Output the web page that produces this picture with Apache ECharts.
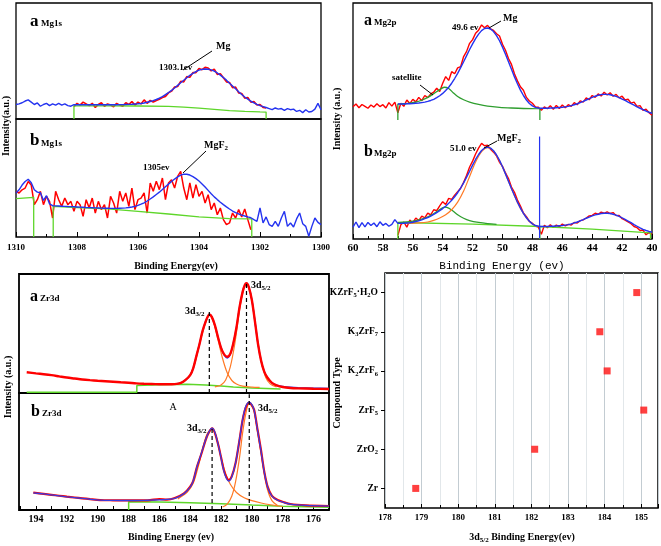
<!DOCTYPE html>
<html><head><meta charset="utf-8">
<script src="https://cdn.jsdelivr.net/npm/echarts@6/dist/echarts.min.js"></script>
<style>html,body{margin:0;padding:0;background:#fff}#c{width:661px;height:546px}</style>
</head><body><div id="c"></div>
<script>
// ---------- Mg1s (two spectra, a and b) ----------
const mg1sE = [1310.0,1309.9,1309.8,1309.7,1309.6,1309.5,1309.4,1309.3,1309.2,1309.1,1309.0,1308.9,1308.8,1308.7,1308.6,1308.5,1308.4,1308.3,1308.2,1308.1,1308.0,1307.9,1307.8,1307.7,1307.6,1307.5,1307.4,1307.3,1307.2,1307.1,1307.0,1306.9,1306.8,1306.7,1306.6,1306.5,1306.4,1306.3,1306.2,1306.1,1306.0,1305.9,1305.8,1305.7,1305.6,1305.5,1305.4,1305.3,1305.2,1305.1,1305.0,1304.9,1304.8,1304.7,1304.6,1304.5,1304.4,1304.3,1304.2,1304.1,1304.0,1303.9,1303.8,1303.7,1303.6,1303.5,1303.4,1303.3,1303.2,1303.1,1303.0,1302.9,1302.8,1302.7,1302.6,1302.5,1302.4,1302.3,1302.2,1302.1,1302.0,1301.9,1301.8,1301.7,1301.6,1301.5,1301.4,1301.3,1301.2,1301.1,1301.0,1300.9,1300.8,1300.7,1300.6,1300.5,1300.4,1300.3,1300.2,1300.1,1300.0];
const mg1sA_blue = [12.5,13.0,14.0,15.5,16.5,14.5,12.5,13.8,11.0,12.5,13.5,11.5,13.0,12.0,13.5,12.0,13.0,11.5,11.0,12.3,
 12.3,12.3,12.3,12.3,12.3,12.3,12.3,12.3,12.3,12.3,12.3,12.3,12.3,12.3,
 12.4,12.4,12.5,12.6,12.7,12.9,13.1,
 13.4,13.8,14.4,15.1,15.8,16.8,17.9,19.3,21.0,22.8,
 24.7,26.7,29.0,31.2,33.4,35.6,37.6,39.3,40.9,42.1,
 42.8,43.1,42.9,42.3,41.2,39.7,37.8,35.7,33.5,30.9,
 28.4,26.0,23.5,21.1,19.0,17.1,15.3,14.0,12.7,11.5,
 10.7,9.9,
 9.0,8.0,9.5,8.5,9.0,7.5,9.0,8.0,8.5,6.5,7.5,5.5,8.0,6.0,6.5,8.5,13.5,8.0];
const mg1sA_red = [null,null,null,null,null,null,null,null,null,null,null,null,null,null,null,null,null,null,null,
 10.5,13.5,12.0,14.5,13.0,11.5,13.5,10.0,12.5,14.0,11.0,13.0,
 12.0,10.5,13.5,12.0,11.0,14.0,12.5,15.0,12.0,14.5,
 13.0,16.5,13.5,16.0,14.5,16.0,17.0,18.5,19.5,22.5,
 24.0,27.5,28.0,32.5,32.0,36.5,36.0,40.0,40.0,43.5,
 42.5,44.5,44.0,41.5,43.0,38.5,39.0,35.5,32.0,31.5,
 27.0,27.5,22.5,22.0,18.0,18.5,14.5,15.0,12.0,12.5,
 10.0,9.5,
 null,null,null,null,null,null,null,null,null,null,null,null,null,null,null,null,null,null];
const mg1sA_greenE = [1308.1,1308.1,1307,1306,1305,1304.5,1304,1303.5,1303,1302.5,1302,1301.8,1301.8];
const mg1sA_green = [0,11.4,11.4,11.2,10.8,10.2,9.3,8.3,7.3,6.5,6.1,6.0,0];

const mg1sB_blue = [37.3,40.0,44.0,47.0,49.0,46.0,40.0,38.0,37.5,31.0,35.0,28.0,26.5,
 26.4,26.25,26.1,25.95,25.8,25.7,25.6,
 25.45,25.3,25.15,25.0,24.9,24.8,24.7,24.6,24.5,24.4,
 24.35,24.3,24.3,24.3,24.4,24.5,24.7,25.0,25.4,26.0,
 26.8,27.8,29.0,30.5,32.2,34.0,36.0,38.0,40.2,42.5,
 44.8,47.0,49.1,51.0,52.4,53.3,53.2,52.5,51.2,49.5,
 47.4,45.0,42.3,39.5,36.7,34.0,31.7,29.5,27.4,25.5,
 23.7,22.0,20.7,19.5,18.6,17.8,17.0,16.3,
 14.7,13.3,24.6,11.9,17.0,10.5,9.0,13.3,9.0,16.1,21.8,9.0,11.9,8.5,15.3,20.3,11.3,9.0,0.6,9.0,16.1,12.4,10.5];
const mg1sB_red = [38.7,37.3,40.0,41.5,47.0,44.0,27.4,31.6,38.7,27.4,
 34.5,30.2,16.1,38.7,31.6,26.0,33.0,27.4,30.2,21.8,
 30.2,27.4,17.5,31.6,24.6,33.0,20.3,30.2,23.2,27.4,
 16.1,34.5,28.8,20.3,38.7,30.2,37.3,26.0,41.5,23.2,
 31.6,33.0,37.3,20.3,45.8,38.7,47.2,40.1,50.0,31.6,
 45.8,48.6,41.5,51.4,55.6,41.5,31.6,45.8,33.0,44.4,
 34.5,38.7,28.8,35.9,23.2,28.8,18.9,24.6,14.7,10.5,
 11.9,20.3,16.1,23.2,17.0,23.7,14.7,6.2,
 null,null,null,null,null,null,null,null,null,null,null,null,null,null,null,null,null,null,null,null,null,null,null];
const mg1sB_green1E = [1310,1309.42,1309.42];
const mg1sB_green1 = [32.5,33.6,0];
const mg1sB_green2E = [1308.78,1308.78,1308,1307,1306,1305,1304,1303,1302.27,1302.27];
const mg1sB_green2 = [0,26.0,25.0,23.8,21.8,19.5,17.0,15.6,15.3,0];

// ---------- Mg2p (two spectra in one frame) ----------
const mg2pE = [60.0,59.8,59.6,59.4,59.2,59.0,58.8,58.6,58.4,58.2,58.0,57.8,57.6,57.4,57.2,57.0,56.8,56.6,56.4,56.2,56.0,55.8,55.6,55.4,55.2,55.0,54.8,54.6,54.4,54.2,54.0,53.8,53.6,53.4,53.2,53.0,52.8,52.6,52.4,52.2,52.0,51.8,51.6,51.4,51.2,51.0,50.8,50.6,50.4,50.2,50.0,49.8,49.6,49.4,49.2,49.0,48.8,48.6,48.4,48.2,48.0,47.8,47.6,47.4,47.2,47.0,46.8,46.6,46.4,46.2,46.0,45.8,45.6,45.4,45.2,45.0,44.8,44.6,44.4,44.2,44.0,43.8,43.6,43.4,43.2,43.0,42.8,42.6,42.4,42.2,42.0,41.8,41.6,41.4,41.2,41.0,40.8,40.6,40.4,40.2,40.0];
const mg2pA_red = [56.0,57.2,55.6,57.0,56.2,55.4,56.8,55.9,57.3,56.1,
 56.9,55.5,57.8,56.3,58.0,53.5,57.5,56.2,58.9,57.4,
 59.2,58.1,60.0,58.6,60.8,59.9,61.5,62.2,63.9,62.5,
 66.0,68.8,67.2,70.9,70.0,72.5,73.0,77.3,79.5,82.9,
 84.5,87.2,88.5,90.7,89.5,90.5,89.0,88.4,87.0,86.0,
 82.5,80.0,76.5,74.0,70.0,67.0,64.5,63.0,60.0,58.5,
 57.5,56.0,55.8,54.5,56.0,55.2,56.5,55.0,56.6,55.3,
 56.8,55.6,56.9,56.2,57.8,56.9,58.5,58.0,59.8,59.0,
 60.8,60.0,61.5,60.6,62.2,61.0,62.0,60.5,61.3,59.8,
 60.5,58.9,59.2,57.6,58.0,56.2,56.5,54.5,55.0,53.5,52.5];
const mg2pA_blue = [null,null,null,null,null,null,null,null,null,null,null,null,null,null,null,
 57.2,57.2,57.2,57.3,57.3,57.4,57.5,57.6,57.8,58.0,
 58.3,58.7,59.2,59.9,60.7,61.7,62.9,64.3,66.0,68.0,
 70.2,72.6,75.1,77.7,80.3,82.7,84.9,86.8,88.3,89.2,
 89.4,89.0,87.9,86.2,84.0,81.3,78.3,75.1,71.9,68.7,
 65.8,63.1,60.8,58.9,57.4,56.4,55.8,55.5,55.4,55.4,
 55.4,55.5,55.5,55.6,55.7,55.8,56.0,56.2,56.5,56.9,
 57.3,57.8,58.3,58.9,59.5,60.0,60.5,60.9,61.2,61.3,
 61.3,61.1,60.8,60.4,59.9,59.3,58.7,58.0,57.4,56.7,
 56.0,55.4,54.8,54.2,53.7,53.3];
const mg2pA_greenE = [57.0,57.0,56.6,56.2,55.8,55.4,55.0,54.6,54.2,53.9,53.6,53.3,53.0,52.6,52.2,51.6,51.0,50.2,49.4,48.6,47.5,47.5];
const mg2pA_green = [50.4,57.2,57.3,57.6,58.0,58.8,60.0,61.6,63.3,64.3,63.8,62.0,60.4,59.0,58.0,57.0,56.3,55.8,55.5,55.3,55.2,50.4];

const mg2pB_blue = [5.0,7.2,4.8,6.9,5.1,7.0,5.7,6.8,5.2,7.3,5.8,6.6,5.4,6.2,8.2,6.6,
 6.6,6.7,6.8,6.9,7.1,7.4,7.7,8.1,8.6,
 9.1,9.7,10.4,11.2,12.0,12.9,13.9,15.1,16.4,17.9,
 19.6,21.6,23.8,26.2,28.7,31.3,33.7,35.8,37.5,38.6,
 38.9,38.5,37.4,35.6,33.3,30.6,27.6,24.5,21.4,18.4,
 15.6,13.1,10.9,9.0,7.5,6.4,5.7,5.4,5.3,5.3,
 5.3,5.4,5.4,5.5,5.6,5.7,5.9,6.1,6.4,6.8,
 7.2,7.7,8.2,8.8,9.3,9.8,10.2,10.5,10.8,10.9,
 10.9,10.8,10.5,10.1,9.6,9.0,8.3,7.6,6.9,6.1,
 5.4,4.7,4.1,3.6,3.2,2.9];
const mg2pB_red = [null,null,null,null,null,null,null,null,null,null,null,null,null,null,null,
 1.5,6.0,7.2,5.0,8.0,6.8,8.9,7.8,9.7,9.0,
 11.0,10.2,12.4,12.0,14.0,15.8,14.6,17.2,16.8,18.6,
 20.0,21.5,24.0,27.0,30.5,33.0,36.0,38.5,40.5,39.5,
 39.8,38.0,36.8,35.2,32.5,30.8,28.0,25.6,22.0,19.8,
 16.5,14.0,11.0,9.5,7.5,6.6,5.5,5.0,2.0,5.8,
 4.8,6.0,4.9,5.9,5.2,6.3,5.6,6.2,5.9,7.0,
 6.8,7.8,8.1,8.9,9.8,10.0,10.9,10.5,11.4,10.9,
 11.5,10.8,11.2,9.9,10.0,8.6,8.0,7.2,6.5,5.3,
 4.8,3.6,3.8,1.8,2.8,2.0];
const mg2pB_orangeE = [56.4,55.6,55.0,54.6,54.2,53.8,53.4,53.0,52.6,52.2,51.8,51.4,51.0,50.6,50.2,49.8,49.4,49.0,48.6,48.2,47.8,47.5];
const mg2pB_orange = [6.6,6.8,7.2,7.9,8.9,10.3,12.4,15.6,20.3,26.5,32.6,37.0,38.7,37.3,33.2,27.5,21.3,15.5,10.8,7.4,5.7,5.2];
const mg2pB_satE = [57.0,56.4,55.8,55.2,54.8,54.4,54.1,53.85,53.6,53.3,53.0,52.6,52.2,51.6,51.0,50.4];
const mg2pB_sat = [6.9,7.2,7.8,8.8,10.0,11.6,12.9,13.5,13.1,11.8,10.3,8.8,7.8,7.0,6.5,6.2];
const mg2pB_baseE = [57.0,57.0,52.0,47.5,47.5,47.5,44.0,40.1,40.1];
const mg2pB_base = [0,7.0,6.3,5.3,0,5.3,4.2,2.6,0];
const mg2pB_spikeE = [47.52,47.52];
const mg2pB_spike = [0.3,43.4];

// ---------- Zr3d ----------
const zrA_redE = [194.6,194,193.5,193,192.5,192,191.5,191,190.5,190,189.5,189,188.5,188,187.5,187,186.5,186,185.5,185,184.6,184.3,184,183.8,183.6,183.4,183.2,183,182.85,182.75,182.6,182.4,182.2,182,181.8,181.6,181.4,181.2,181,180.8,180.6,180.45,180.35,180.2,180,179.8,179.6,179.4,179.2,179,178.7,178.4,178,177.5,177,176,175];
const zrA_red = [17.4,16.5,15.8,15.0,14.0,13.0,12.2,11.4,10.8,10.3,9.9,9.5,9.0,8.6,8.1,7.8,7.6,7.4,7.3,7.5,8.5,11,15,21,31,41,52,60,64.5,66,64,57,47,38,32.5,30.5,33,42,55,72,85,91,92.2,89,78,60,41,27,18,13,8.5,6.5,5,4.2,3.9,3.6,3.4];
const zrA_blueE = [185,184.6,184.3,184,183.8,183.6,183.4,183.2,183,182.85,182.75,182.6,182.4,182.2,182,181.8,181.6,181.4,181.2,181,180.8,180.6,180.45,180.35,180.2,180,179.8,179.6,179.4,179.2,179,178.7,178.4,178,177.5,177,176,175];
const zrA_blue = [7.5,8.5,11,15,21,31,41,52,60,64.5,66,64,57,47,38,32,29.5,32.5,42,55,72,85,91,92.2,89,78,60,41,27,18,13,8.5,6.5,5.5,4.8,4.4,4.0,3.8];
const zrA_o1E = [184.8,184.4,184.0,183.8,183.6,183.3,183.0,182.76,182.5,182.2,181.9,181.6,181.3,181.0,180.6,180.0,179.5];
const zrA_o1 = [7.2,9.5,15,21,30,46,59,65.5,60,45,29,17,10.5,7.5,5.8,5.0,4.8];
const zrA_o2E = [182.4,182.0,181.7,181.4,181.1,180.8,180.6,180.45,180.35,180.2,180.0,179.8,179.6,179.4,179.1,178.8,178.4];
const zrA_o2 = [5.2,6.8,11,22,42,70,84,90.5,92,89,78,60,41,27,13,7.5,5];
const zrA_greenE = [194.6,187.46,187.46,186,184.2,183,182,181.2,180,178.14];
const zrA_green = [0.6,0.6,6.2,6.9,7.4,6.7,5.9,5.0,4.2,3.4];
const zrA_peakE = [182.76,180.35];
const zrA_peakTop = [68,94];

const zrB_E = [194.17,193.5,193,192.5,192,191.5,191,190.5,189.84,189,188,187,186.6,186,185.5,185,184.4,184,183.8,183.56,183.3,183,182.8,182.58,182.4,182.15,182,181.82,181.65,181.5,181.3,181.06,180.8,180.6,180.4,180.17,180,179.85,179.65,179.41,179.2,178.98,178.7,178.33,177.9,177.5,176.5,175];
const zrB_red = [14.8,13.8,13.0,12.2,11.4,10.7,10.0,9.3,8.5,8.3,8.2,8.3,8.5,9.4,8.8,10.2,14.2,20,25,37,47,59.8,66,69.8,66,54.1,45,34.2,28,25.6,29,39.9,60,76.9,87.5,91.7,89.5,85.5,70,51.3,33,20,12,8.5,6.5,5.1,4.0,3.4];
const zrB_blue = [14.6,13.7,12.9,12.1,11.3,10.6,9.9,9.2,8.5,8.2,8.1,8.2,8.4,8.7,9.0,10.0,14.0,19.5,25,37,47.5,60,66.5,70,66.5,54,44.5,33.5,27,24.8,28.5,40,60.5,77.5,88.5,92.2,90,85,69.5,50.5,32.5,19.5,11.8,8.3,6.4,5.0,3.9,3.3];
const zrB_o1E = [184.8,184.2,183.8,183.5,183.2,182.9,182.58,182.3,182.0,181.7,181.4,181.0,180.5,180.0,179.4,178.8,178.0];
const zrB_o1 = [9.5,15,23,36,52,65,69.5,62,45,31,22,15,10.5,8,6,4.5,3];
const zrB_o2E = [181.9,181.6,181.3,181.06,180.8,180.6,180.4,180.17,180.0,179.85,179.65,179.41,179.2,178.98,178.7,178.3];
const zrB_o2 = [2.5,5,12,24,45,66,82,91.5,89,84,68,49,31,17,8,3.5];
const zrB_greenE = [187.99,187.99,186,184,182,180,178,175];
const zrB_green = [0,7.1,6.8,6.2,5.3,4.2,3.2,2.3];
const zrB_peakE = [182.58,180.17];
const zrB_peakTop = [71,99];

// ---------- Compound 3d5/2 binding energies ----------
const compounds = ['Zr','ZrO2','ZrF5','K2ZrF6','K3ZrF7','KZrF5·H2O'];
const bindingE = [178.84,182.09,185.07,184.07,183.87,184.88];

// ================= build =================
const SERIF = '"Liberation Serif","Times New Roman",serif';
const MONO = '"Liberation Mono","Courier New",monospace';
const RED = '#ff0000', BLUE = '#2433f0', LGREEN = '#5ed62a', DGREEN = '#2f9e2f', ORANGE = '#ff7a26';
const zip = (xs, ys) => xs.map((x, i) => [x, ys[i]]).filter(p => p[1] !== null && p[1] !== undefined);
function ln(gi, data, color, width, extra) {
  return Object.assign({type:'line', xAxisIndex:gi, yAxisIndex:gi, data, symbol:'none', silent:true,
    lineStyle:{color, width}, animation:false}, extra || {});
}
const series = [];
// Mg1s a
series.push(ln(0, zip(mg1sE, mg1sA_red), RED, 1.6));
series.push(ln(0, zip(mg1sA_greenE, mg1sA_green), LGREEN, 1.3));
series.push(ln(0, zip(mg1sE, mg1sA_blue), BLUE, 1.4));
// Mg1s b
series.push(ln(1, zip(mg1sE, mg1sB_red), RED, 1.5));
series.push(ln(1, zip(mg1sB_green1E, mg1sB_green1), LGREEN, 1.3));
series.push(ln(1, zip(mg1sB_green2E, mg1sB_green2), LGREEN, 1.3));
series.push(ln(1, zip(mg1sE, mg1sB_blue), BLUE, 1.4));
// Mg2p a
series.push(ln(2, zip(mg2pE, mg2pA_red), RED, 1.4));
series.push(ln(2, zip(mg2pA_greenE, mg2pA_green), DGREEN, 1.3, {smooth:0.3}));
series.push(ln(2, zip(mg2pE, mg2pA_blue), BLUE, 1.4));
// Mg2p b
series.push(ln(2, zip(mg2pE, mg2pB_red), RED, 1.4));
series.push(ln(2, zip(mg2pB_baseE, mg2pB_base), LGREEN, 1.3));
series.push(ln(2, zip(mg2pB_satE, mg2pB_sat), DGREEN, 1.3, {smooth:0.3}));
series.push(ln(2, zip(mg2pB_orangeE, mg2pB_orange), ORANGE, 1.2, {smooth:0.3}));
series.push(ln(2, zip(mg2pE, mg2pB_blue), BLUE, 1.4));
series.push(ln(2, zip(mg2pB_spikeE, mg2pB_spike), BLUE, 1.2));
// Zr3d a
series.push(ln(3, zip(zrA_greenE, zrA_green), LGREEN, 1.5));
series.push(ln(3, zip(zrA_blueE, zrA_blue), BLUE, 1.5, {smooth:0.3}));
series.push(ln(3, zip(zrA_o1E, zrA_o1), ORANGE, 1.2, {smooth:0.3}));
series.push(ln(3, zip(zrA_o2E, zrA_o2), ORANGE, 1.2, {smooth:0.3}));
series.push(ln(3, zip(zrA_redE, zrA_red), RED, 2.4, {smooth:0.3}));
zrA_peakE.forEach((e, i) => series.push(ln(3, [[e, 0], [e, zrA_peakTop[i]]], '#000', 1.2, {lineStyle:{color:'#000', width:1.2, type:[4,3]}})));
// Zr3d b
series.push(ln(4, zip(zrB_greenE, zrB_green), LGREEN, 1.5));
series.push(ln(4, zip(zrB_o1E, zrB_o1), ORANGE, 1.2, {smooth:0.3}));
series.push(ln(4, zip(zrB_o2E, zrB_o2), ORANGE, 1.2, {smooth:0.3}));
series.push(ln(4, zip(zrB_E, zrB_red), RED, 2.2, {smooth:0.3}));
series.push(ln(4, zip(zrB_E, zrB_blue), '#3a3adf', 1.3, {smooth:0.3}));
zrB_peakE.forEach((e, i) => series.push(ln(4, [[e, 0], [e, zrB_peakTop[i]]], '#000', 1.2, {lineStyle:{color:'#000', width:1.2, type:[4,3]}})));
// scatter
series.push({type:'scatter', xAxisIndex:5, yAxisIndex:5, data: bindingE.map((v, i) => [v, i]),
  symbol:'rect', symbolSize:7, itemStyle:{color:'#ff1010'}, silent:true, animation:false});

const tickStyle = {color:'#000', width:1};
const isInt = v => Math.abs(v - Math.round(v)) < 1e-6;
const lblStyle = (size, margin) => ({fontFamily:SERIF, fontWeight:'bold', fontSize:size, color:'#000', margin,
  formatter: v => isInt(v) ? String(Math.round(v)) : ''});
const hideY = gi => ({type:'value', gridIndex:gi, min:0, max:100, show:false});
const subRich = s => s.replace(/(\d+)/g, '}{s|$1}{n|').replace(/^/, '{n|').concat('}').replace(/\{n\|\}/g, '');
const noLine = {show:false, onZero:false};

const xAxis = [
  {gridIndex:0, type:'value', min:1300, max:1310, inverse:true, interval:2, axisLine:noLine, axisTick:{show:false}, axisLabel:{show:false}, splitLine:{show:false}},
  {gridIndex:1, type:'value', min:1300, max:1310, inverse:true, interval:2, axisLine:noLine,
    axisTick:{inside:true, length:5, lineStyle:tickStyle}, minorTick:{show:true, splitNumber:2, length:3, lineStyle:tickStyle},
    axisLabel:lblStyle(9, 6), splitLine:{show:false}, minorSplitLine:{show:false}},
  {gridIndex:2, type:'value', min:40, max:60, inverse:true, interval:2, axisLine:noLine,
    axisTick:{inside:true, length:5, lineStyle:tickStyle}, minorTick:{show:true, splitNumber:2, length:3, lineStyle:tickStyle},
    axisLabel:lblStyle(11, 4), splitLine:{show:false}, minorSplitLine:{show:false}},
  {gridIndex:3, type:'value', min:175, max:195.1, inverse:true, interval:1, axisLine:noLine, axisTick:{show:false}, axisLabel:{show:false}, splitLine:{show:false}},
  {gridIndex:4, type:'value', min:175, max:195.1, inverse:true, interval:1, axisLine:noLine,
    axisTick:{inside:true, length:4, lineStyle:tickStyle},
    axisLabel:Object.assign(lblStyle(10, 4), {formatter: v => (isInt(v) && Math.round(v) % 2 === 0) ? String(Math.round(v)) : ''}),
    splitLine:{show:false}},
  {gridIndex:5, type:'value', min:178, max:185.46, interval:1, axisLine:noLine,
    axisTick:{inside:true, length:4, lineStyle:tickStyle}, minorTick:{show:true, splitNumber:2, length:3, lineStyle:tickStyle},
    axisLabel:lblStyle(9, 5),
    splitLine:{show:true, lineStyle:{color:'#c3ccd2', width:1}}, minorSplitLine:{show:true, lineStyle:{color:'#e2e7ea', width:1}}}
];
const yAxis = [hideY(0), hideY(1), hideY(2), hideY(3), hideY(4),
  {gridIndex:5, type:'value', min:-0.5, max:5.5, axisLine:noLine,
    axisTick:{show:true, inside:false, length:4, customValues:[0,1,2,3,4,5], lineStyle:tickStyle},
    axisLabel:{customValues:[0,1,2,3,4,5], margin:7, formatter: v => subRich(compounds[Math.round(v)]),
      rich:{n:{fontFamily:SERIF, fontWeight:'bold', fontSize:9.5, color:'#000', lineHeight:13},
            s:{fontFamily:SERIF, fontWeight:'bold', fontSize:6.5, color:'#000', lineHeight:7, verticalAlign:'bottom'}}},
    splitLine:{show:false}}
];
const gridBase = {show:true, borderColor:'#000', backgroundColor:'transparent', containLabel:false};
const grid = [
  Object.assign({left:16, top:3, width:305, height:116, borderWidth:1.3}, gridBase),
  Object.assign({left:16, top:119, width:305, height:118, borderWidth:1.3}, gridBase),
  Object.assign({left:353, top:3, width:299, height:236, borderWidth:1.3}, gridBase),
  Object.assign({left:19, top:274, width:310, height:119, borderWidth:1.8}, gridBase),
  Object.assign({left:19, top:393, width:310, height:117, borderWidth:1.8}, gridBase),
  Object.assign({left:385, top:273, width:273, height:235, borderWidth:1.5}, gridBase)
];

// ---------- text annotations ----------
function txt(x, y, text, size, o) {
  o = o || {};
  return {type:'text', x, y, rotation:o.rot || 0, silent:true, z:100,
    style:{text, fill:'#000', font:(o.weight || 'bold') + ' ' + size + 'px ' + (o.family || SERIF),
      align:o.align || 'left', verticalAlign:o.va || 'middle', rich:o.rich}};
}
function richSet(size, sub) {
  return {n:{fontSize:size, fontWeight:'bold', fontFamily:SERIF, lineHeight:size + 3},
          s:{fontSize:sub, fontWeight:'bold', fontFamily:SERIF, lineHeight:sub, verticalAlign:'bottom'}};
}
function lead(x1, y1, x2, y2) {
  return {type:'line', silent:true, z:100, shape:{x1, y1, x2, y2}, style:{stroke:'#000', lineWidth:1}};
}
const graphics = [
  // Mg1s
  txt(30, 22, 'a', 17), txt(41, 24, 'Mg1s', 9),
  txt(30, 141, 'b', 17), txt(41, 144, 'Mg1s', 9),
  txt(216, 46, 'Mg', 10), txt(159, 68, '1303.1ev', 9), lead(212, 51, 183, 70),
  txt(204, 145, '{n|MgF}{s|2}', 10, {rich:richSet(10, 7)}), txt(143, 168, '1305ev', 9), lead(206, 151, 183, 173),
  txt(176, 266, 'Binding Energy(ev)', 10, {align:'center'}),
  txt(6, 126, 'Intensity(a.u.)', 10, {align:'center', rot:Math.PI / 2}),
  // Mg2p
  txt(364, 21, 'a', 16), txt(374, 23, 'Mg2p', 9),
  txt(364, 152, 'b', 16), txt(374, 154, 'Mg2p', 9),
  txt(452, 28, '49.6 ev', 9), txt(503, 18, 'Mg', 10), lead(501, 21, 489, 28),
  txt(392, 78, 'satellite', 9), lead(420, 85, 433, 95),
  txt(450, 149, '51.0 ev', 9), txt(497, 138, '{n|MgF}{s|2}', 10, {rich:richSet(10, 7)}), lead(497, 141, 484, 148),
  txt(502, 266, 'Binding Energy (ev)', 11, {align:'center', family:MONO, weight:'normal'}),
  txt(337, 119, 'Intensity (a.u.)', 10, {align:'center', rot:Math.PI / 2}),
  // Zr3d
  txt(30, 297, 'a', 16), txt(40, 299, 'Zr3d', 9),
  txt(31, 412, 'b', 16), txt(42, 414, 'Zr3d', 9),
  txt(185, 311, '{n|3d}{s|3/2}', 10, {rich:richSet(10, 7)}),
  txt(251, 285, '{n|3d}{s|5/2}', 10, {rich:richSet(10, 7)}),
  txt(173, 407, 'A', 10, {weight:'normal', align:'center'}),
  txt(187, 428, '{n|3d}{s|3/2}', 10, {rich:richSet(10, 7)}),
  txt(258, 408, '{n|3d}{s|5/2}', 10, {rich:richSet(10, 7)}),
  txt(171, 537, 'Binding Energy (ev)', 10, {align:'center'}),
  txt(8, 387, 'Intensity (a.u.)', 10, {align:'center', rot:Math.PI / 2}),
  // compound panel
  txt(522, 537, '{n|3d}{s|5/2}{n| Binding Energy(ev)}', 10, {align:'center', rich:richSet(10, 7)}),
  txt(337, 393, 'Compound Type', 10, {align:'center', rot:Math.PI / 2})
];

const chart = echarts.init(document.getElementById('c'), null, {renderer:'canvas'});
chart.setOption({animation:false, backgroundColor:'#fff', grid, xAxis, yAxis, series, graphic:graphics});
</script></body></html>
